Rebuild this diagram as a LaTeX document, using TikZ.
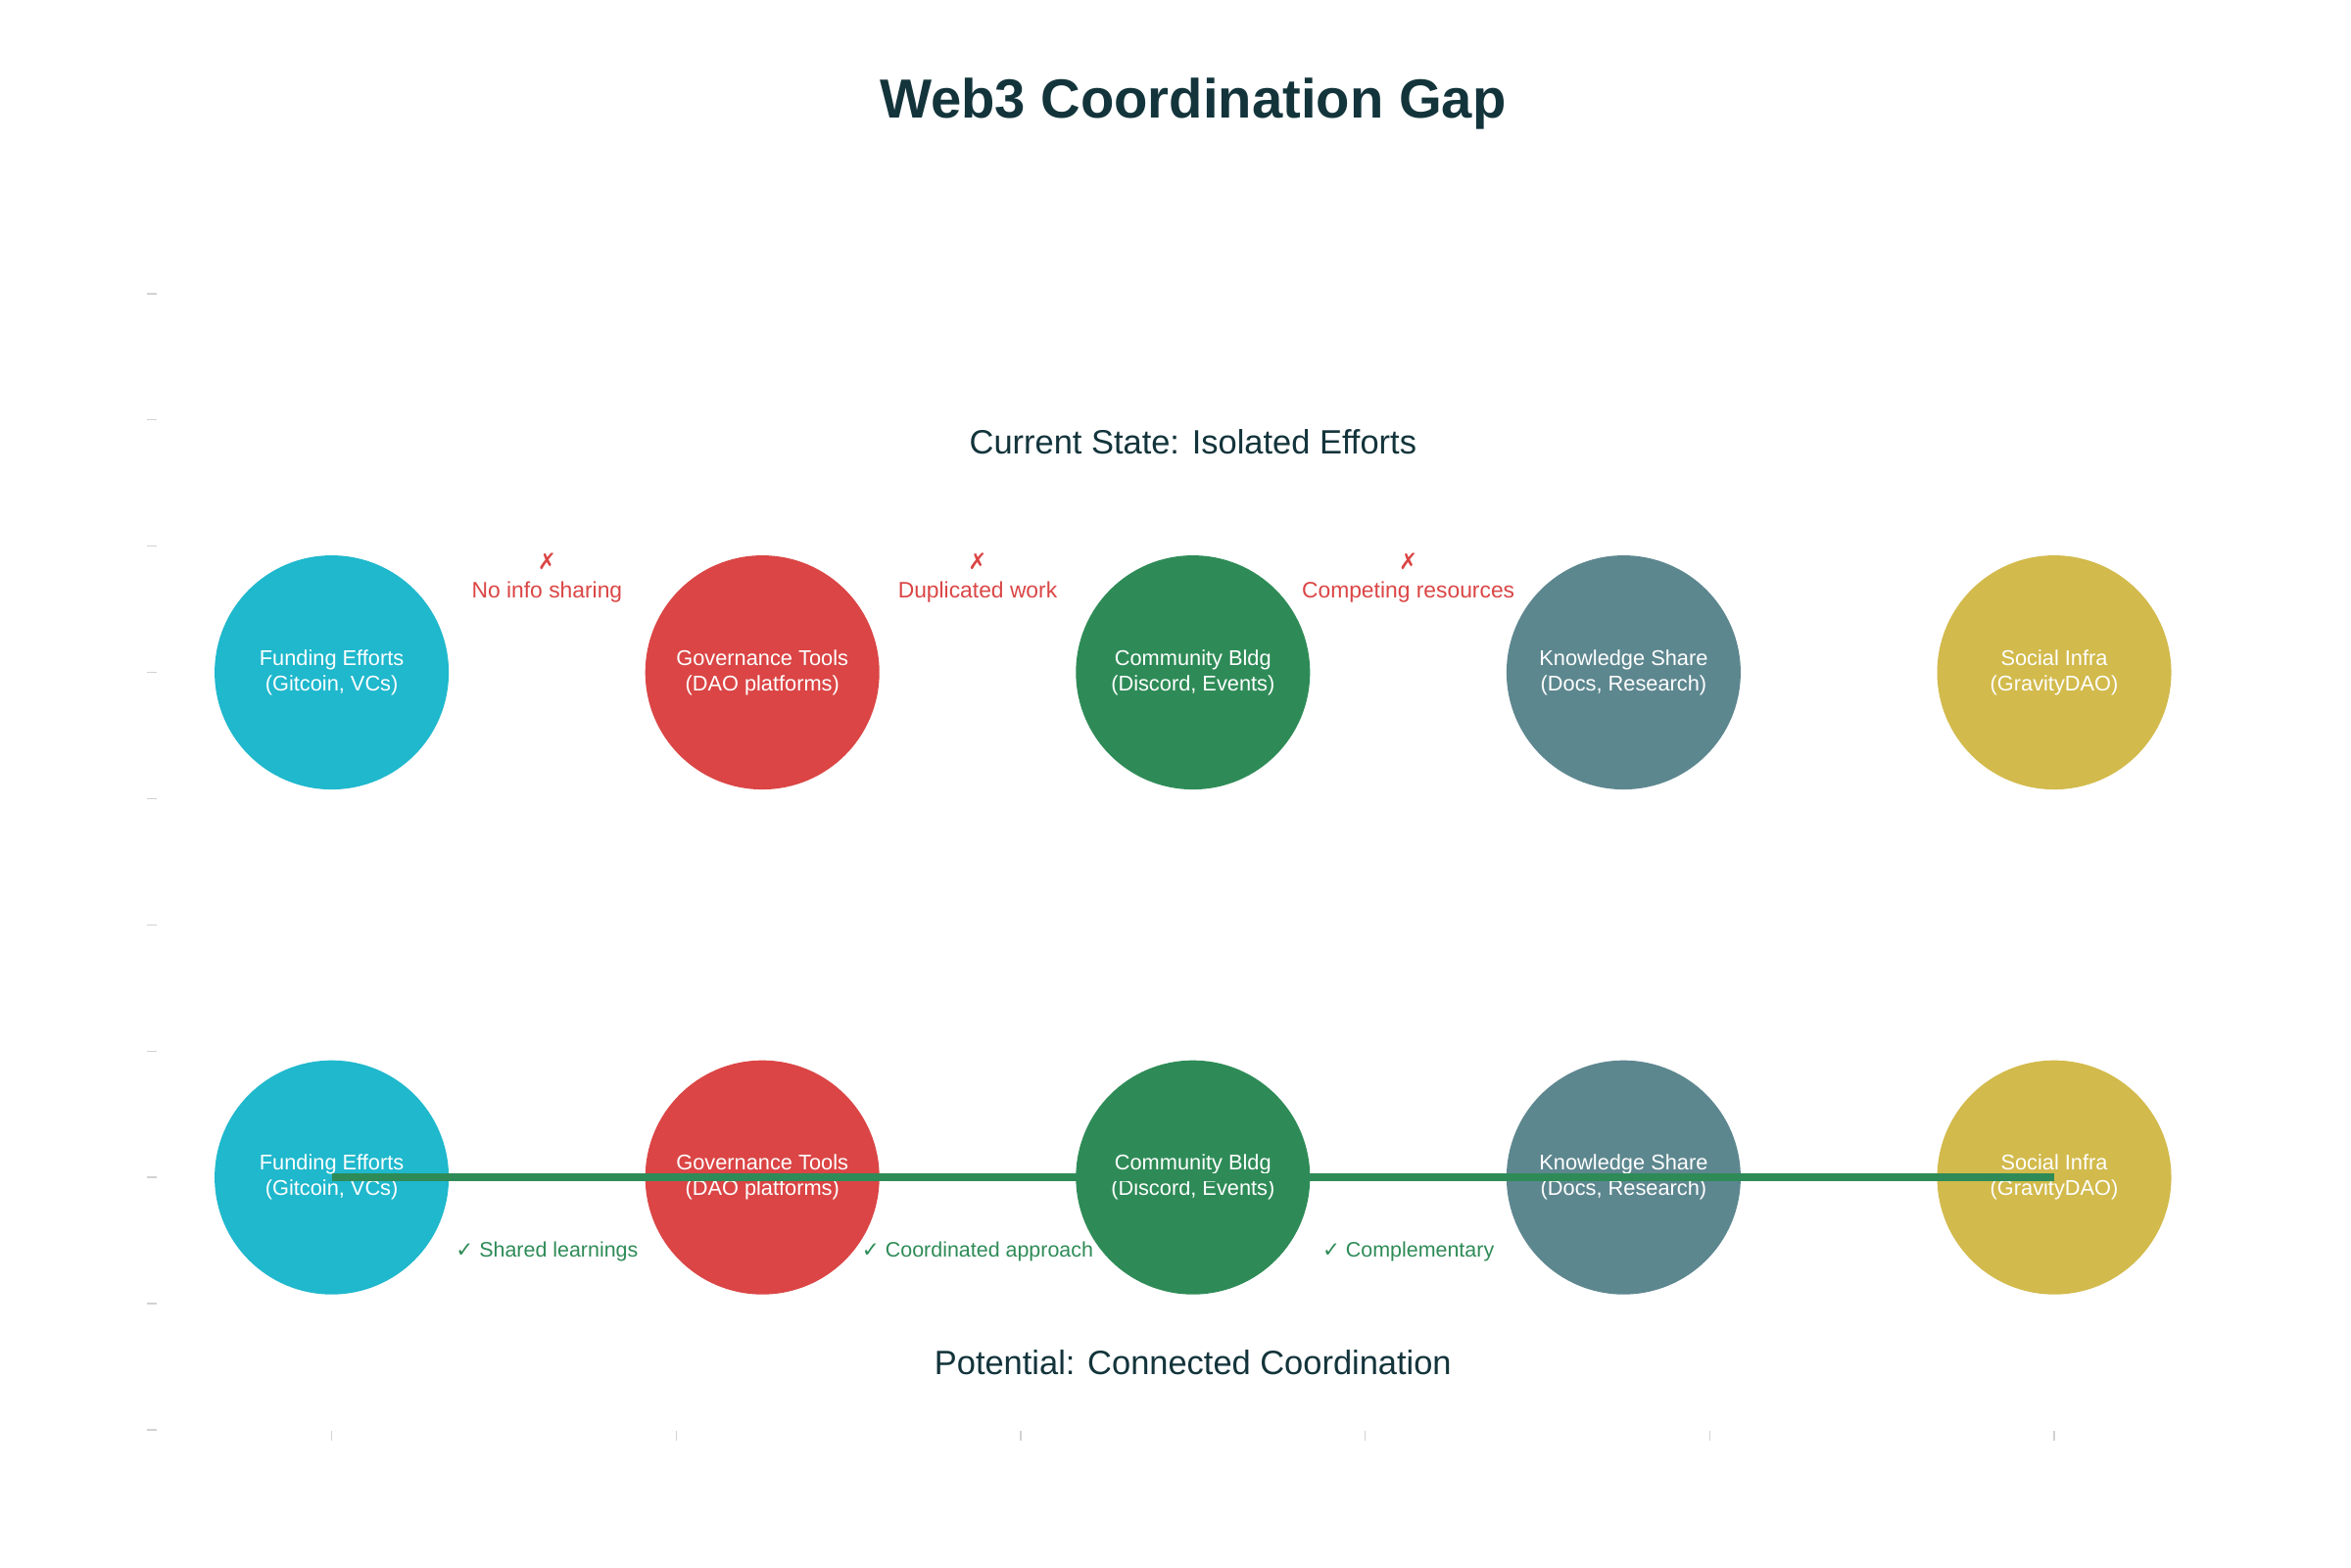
\documentclass[tikz,border=0pt]{standalone}
\usepackage{fontspec}
\setmainfont{Liberation Sans}
\newfontfamily\symfont{DejaVu Sans}
\usetikzlibrary{positioning}

\definecolor{ink}{HTML}{13343B}
\definecolor{fundc}{HTML}{1FB8CD}
\definecolor{govc}{HTML}{DB4545}
\definecolor{commc}{HTML}{2E8B57}
\definecolor{knowc}{HTML}{5D878F}
\definecolor{socc}{HTML}{D2BA4C}

\begin{document}
\begin{tikzpicture}[>=latex,
  blob/.style={circle, minimum size=2.39cm, inner sep=0pt, text=white, align=center,
    font=\fontsize{6.2}{7.4}\selectfont},
  gapnote/.style={text=govc, align=center, font=\fontsize{6.5}{8.4}\selectfont},
  linknote/.style={text=commc, font=\fontsize{6.1}{8}\selectfont},
  heading/.style={text=ink, anchor=base, font=\fontsize{9.8}{12}\selectfont},
  axtick/.style={gray!35, line width=0.4pt}]
  \useasboundingbox [fill=white] (0,0) rectangle (24,16);

  % axis ticks
  \foreach \k in {0,...,9}
    \draw [axtick] (1.50,{1.4+1.289*\k}) -- (1.60,{1.4+1.289*\k});
  \foreach \k in {0,...,5}
    \draw [axtick] ({3.386+3.517*\k},1.39) -- ({3.386+3.517*\k},1.29);

  % titles
  \node (title) at (12.178,14.79) [heading, font=\fontsize{16}{20}\selectfont\bfseries] {Web3 Coordination Gap};
  \node (now) at (12.178,11.36) [heading] {Current State: Isolated Efforts};
  \node (later) at (12.178,1.96) [heading] {Potential: Connected Coordination};

  % current state
  \node [blob, fill=fundc] (fund1) at (3.386,9.134) {Funding Efforts\\(Gitcoin, VCs)};
  \node [blob, fill=govc, on grid, right=4.396cm of fund1] (gov1) {Governance Tools\\(DAO platforms)};
  \node [blob, fill=commc, on grid, right=4.396cm of gov1] (comm1) {Community Bldg\\(Discord, Events)};
  \node [blob, fill=knowc, on grid, right=4.396cm of comm1] (know1) {Knowledge Share\\(Docs, Research)};
  \node [blob, fill=socc, on grid, right=4.396cm of know1] (soc1) {Social Infra\\(GravityDAO)};

  \node (gap1) at (5.584,10.10) [gapnote] {{\symfont ✗}\\No info sharing};
  \node (gap2) at (9.980,10.10) [gapnote] {{\symfont ✗}\\Duplicated work};
  \node (gap3) at (14.376,10.10) [gapnote] {{\symfont ✗}\\Competing resources};

  % potential
  \node [blob, fill=fundc] (fund2) at (3.386,3.978) {Funding Efforts\\(Gitcoin, VCs)};
  \node [blob, fill=govc, on grid, right=4.396cm of fund2] (gov2) {Governance Tools\\(DAO platforms)};
  \node [blob, fill=commc, on grid, right=4.396cm of gov2] (comm2) {Community Bldg\\(Discord, Events)};
  \node [blob, fill=knowc, on grid, right=4.396cm of comm2] (know2) {Knowledge Share\\(Docs, Research)};
  \node [blob, fill=socc, on grid, right=4.396cm of know2] (soc2) {Social Infra\\(GravityDAO)};

  \draw [commc, line width=2.3pt] (fund2.center) -- (soc2.center);

  \node (link1) at (5.584,3.22) [linknote] {{\symfont ✓} Shared learnings};
  \node (link2) at (9.980,3.22) [linknote] {{\symfont ✓} Coordinated approach};
  \node (link3) at (14.376,3.22) [linknote] {{\symfont ✓} Complementary};
\end{tikzpicture}
\end{document}
